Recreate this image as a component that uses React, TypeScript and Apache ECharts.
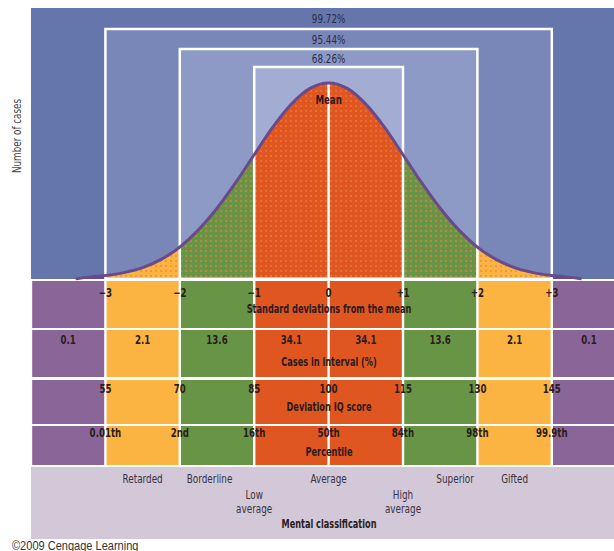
import React, { useEffect, useRef } from 'react';
import * as echarts from 'echarts';

// ---------- data ----------
const curveSd = [-3.4, -3.25, -3, -2.75, -2.5, -2.25, -2, -1.75, -1.5, -1.25, -1, -0.75, -0.5, -0.25, 0,
  0.25, 0.5, 0.75, 1, 1.25, 1.5, 1.75, 2, 2.25, 2.5, 2.75, 3, 3.25, 3.4];
const curveCases = [0, 0.33, 0.7, 1.3, 2.3, 4.0, 6.5, 10.0, 14.4, 19.6, 25.3, 30.9, 35.6, 38.8, 39.9,
  38.8, 35.6, 30.9, 25.3, 19.6, 14.4, 10.0, 6.5, 4.0, 2.3, 1.3, 0.7, 0.33, 0];

const sdTicks = [-3, -2, -1, 0, 1, 2, 3];
const sdLabels = ['\u22123', '\u22122', '\u22121', '0', '+1', '+2', '+3'];
const iqScores = ['55', '70', '85', '100', '115', '130', '145'];
const percentileLabels = ['0.01th', '2nd', '16th', '50th', '84th', '98th', '99.9th'];

const intervalEdges = [-4, -3, -2, -1, 0, 1, 2, 3, 4];
const casesInInterval = ['0.1', '2.1', '13.6', '34.1', '34.1', '13.6', '2.1', '0.1'];

const coverageSpan = [3, 2, 1];
const coverageLabels = ['99.72%', '95.44%', '68.26%'];

const classNames = ['Retarded', 'Borderline', 'Low\naverage', 'Average', 'High\naverage', 'Superior', 'Gifted'];
const classSd = [-2.5, -1.6, -1, 0, 1, 1.7, 2.5];
const classLine = [0, 0, 1, 0, 1, 0, 0];

const rowTitles = ['Standard deviations from the mean', 'Cases in interval (%)', 'Deviation IQ score', 'Percentile'];

// ---------- layout / style ----------
const L = {
  left: 31, top: 8, width: 583, plotH: 271,
  xMin: -4, xMax: 3.836, yMax: 55.17,
  rows: [[281, 328], [330, 377], [380, 424], [426, 465]],
  rowLabelY: [293, 340, 389, 433],
  rowTitleY: [309, 362, 407, 452],
  classTop: 467, classBottom: 539,
  boxTops: [29, 49, 67],
  centerX: 329,
};
const FONT = '"DejaVu Sans Condensed", "Liberation Sans", "Noto Sans", sans-serif';
const C = {
  bg0: '#6576ad',
  boxes: ['#7886b8', '#8d9ac6', '#a3add3'],
  outer: '#8a6598', tail: '#fbb441', mid: '#679545', core: '#e05621',
  lavender: '#d2c8d8', curve: '#6a4a8c', text: '#2a1c1c', pctText: '#2a2c45', classText: '#3a3340',
};
const columnColors = [C.outer, C.tail, C.mid, C.core, C.core, C.mid, C.tail, C.outer];

function txt(x: number, y: number, text: string, size: number, bold: boolean, fill = C.text, sx = 0.8, extra: any = {}) {
  return {
    type: 'text', x, y, scaleX: sx,
    style: { text, fill, fontSize: size, fontWeight: bold ? 'bold' : 'normal', fontFamily: FONT, align: 'center', verticalAlign: 'middle', ...extra },
  };
}

export default function App() {
  const ref = useRef<HTMLDivElement>(null);
  useEffect(() => {
    const chart = echarts.init(ref.current!, null, { renderer: 'svg' });
    const curveData = curveSd.map((s, i) => [s, curveCases[i]]);
    const peak = curveCases[curveSd.indexOf(0)];

    const option: any = {
      animation: false,
      grid: { left: L.left, top: L.top, width: L.width, height: L.plotH, show: true, backgroundColor: C.bg0, borderWidth: 0 },
      xAxis: { type: 'value', min: L.xMin, max: L.xMax, show: false },
      yAxis: { type: 'value', min: 0, max: L.yMax, show: false },
      visualMap: {
        type: 'piecewise', show: false, dimension: 0, seriesIndex: 1,
        pieces: [
          { lt: -3, color: C.curve },
          { gte: -3, lt: -2, color: C.tail },
          { gte: -2, lt: -1, color: C.mid },
          { gte: -1, lt: 1, color: C.core },
          { gte: 1, lt: 2, color: C.mid },
          { gte: 2, lt: 3, color: C.tail },
          { gte: 3, color: C.curve },
        ],
      },
      series: [
        // 0: nested background boxes
        {
          type: 'custom', z: 1, silent: true,
          data: coverageSpan.map((k, i) => [k, i]),
          renderItem: (params: any, api: any) => {
            const k = api.value(0); const i = api.value(1);
            const x0 = api.coord([-k, 0])[0]; const x1 = api.coord([k, 0])[0];
            const yb = api.coord([0, 0])[1];
            return { type: 'rect', shape: { x: x0, y: L.boxTops[i], width: x1 - x0, height: yb - L.boxTops[i] }, style: { fill: C.boxes[i] } };
          },
        },
        // 1: area under the curve (coloured by interval)
        {
          type: 'line', z: 2, data: curveData, smooth: 0.3, showSymbol: false, silent: true,
          lineStyle: { width: 0 },
          areaStyle: { opacity: 1 },
          itemStyle: {
            decal: { symbol: 'circle', symbolSize: 0.8, color: 'rgba(240,128,62,0.9)', dashArrayX: [2, 3], dashArrayY: [2, 3] },
          },
        },
        // 2: white box outlines + coverage labels
        {
          type: 'custom', z: 3, silent: true,
          data: coverageSpan.map((k, i) => [k, i]),
          renderItem: (params: any, api: any) => {
            const k = api.value(0); const i = api.value(1);
            const x0 = api.coord([-k, 0])[0]; const x1 = api.coord([k, 0])[0];
            const yb = api.coord([0, 0])[1];
            const prevTop = i === 0 ? L.top : L.boxTops[i - 1];
            return {
              type: 'group',
              children: [
                { type: 'rect', shape: { x: x0, y: L.boxTops[i], width: x1 - x0, height: yb - L.boxTops[i] }, style: { fill: 'none', stroke: '#ffffff', lineWidth: 2.5 } },
                txt((x0 + x1) / 2, (prevTop + L.boxTops[i]) / 2 + 1, coverageLabels[i], 11.5, false, C.pctText, 0.85),
              ],
            };
          },
        },
        // 3: centre line from baseline to the curve's peak + Mean label
        {
          type: 'custom', z: 3, silent: true,
          data: [[0, peak]],
          renderItem: (params: any, api: any) => {
            const p0 = api.coord([api.value(0), 0]); const p1 = api.coord([api.value(0), api.value(1)]);
            return {
              type: 'group',
              children: [
                { type: 'line', shape: { x1: p0[0], y1: p0[1], x2: p1[0], y2: p1[1] }, style: { stroke: '#ffffff', lineWidth: 2.5 } },
                txt(p1[0], p1[1] + 17, 'Mean', 12, true, C.text, 0.8),
              ],
            };
          },
        },
        // 4: curve outline
        {
          type: 'line', z: 4, data: curveData, smooth: 0.3, showSymbol: false, silent: true,
          lineStyle: { width: 3, color: C.curve }, itemStyle: { color: C.curve },
        },
        // 5: table cells + cases in interval
        {
          type: 'custom', z: 1, silent: true,
          data: casesInInterval.map((v, i) => [intervalEdges[i], intervalEdges[i + 1], i]),
          renderItem: (params: any, api: any) => {
            const i = api.value(2);
            const x0 = api.coord([api.value(0), 0])[0]; const x1 = api.coord([api.value(1), 0])[0];
            const children: any[] = L.rows.map(([r0, r1]) => ({
              type: 'rect', shape: { x: x0 + 1.2, y: r0, width: x1 - x0 - 2.4, height: r1 - r0 }, style: { fill: columnColors[i] },
            }));
            children.push(txt((x0 + x1) / 2, L.rowLabelY[1], casesInInterval[i], 12, true));
            return { type: 'group', children };
          },
        },
        // 6: tick labels (SD, IQ, percentile)
        {
          type: 'custom', z: 5, silent: true,
          data: sdTicks.map((s, i) => [s, i]),
          renderItem: (params: any, api: any) => {
            const i = api.value(1);
            const x = api.coord([api.value(0), 0])[0];
            return {
              type: 'group',
              children: [
                txt(x, L.rowLabelY[0], sdLabels[i], 12, true),
                txt(x, L.rowLabelY[2], iqScores[i], 12, true),
                txt(x, L.rowLabelY[3], percentileLabels[i], 12, true),
              ],
            };
          },
        },
        // 7: mental classification labels
        {
          type: 'custom', z: 5, silent: true,
          data: classSd.map((s, i) => [s, i]),
          renderItem: (params: any, api: any) => {
            const i = api.value(1);
            const x = api.coord([api.value(0), 0])[0];
            const y = classLine[i] === 0 ? 479 : 502;
            return txt(x, y, classNames[i], 12, false, C.classText, 0.82, { lineHeight: 14 });
          },
        },
      ],
      graphic: [
        { type: 'rect', z: 0, shape: { x: L.left, y: L.classTop, width: 614 - L.left, height: L.classBottom - L.classTop }, style: { fill: C.lavender } },
        ...rowTitles.map((t, r) => ({ ...txt(L.centerX, L.rowTitleY[r], t, 12, true, C.text, 0.76), z: 10 })),
        { ...txt(L.centerX, 524, 'Mental classification', 12, true, C.text, 0.76), z: 10 },
        { ...txt(17, 136, 'Number of cases', 11.5, false, '#444444', 0.85), rotation: Math.PI / 2, z: 10 },
        { type: 'text', x: 12, y: 540, z: 10, scaleX: 0.92, style: { text: '\u00a92009 Cengage Learning', fill: '#333333', fontSize: 12, fontFamily: '"Liberation Sans", sans-serif', align: 'left', verticalAlign: 'top' } },
      ],
    };
    chart.setOption(option);
    return () => chart.dispose();
  }, []);
  return <div ref={ref} style={{ position: 'fixed', left: 0, top: 0, width: 614, height: 551, background: '#ffffff' }} />;
}
